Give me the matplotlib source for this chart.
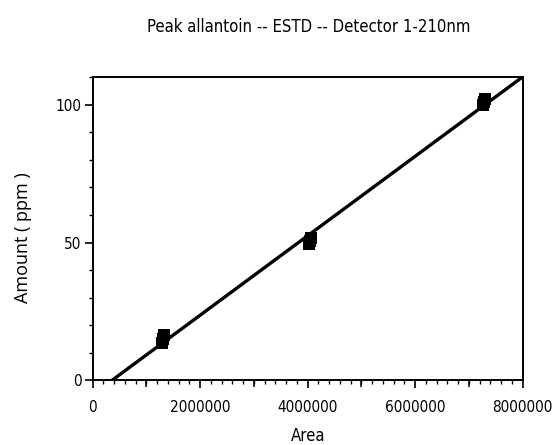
import numpy as np
import matplotlib.pyplot as plt
from matplotlib.ticker import MultipleLocator

# replicate injections of the three standards
area = [1.28e6, 1.30e6, 1.32e6,
        4.02e6, 4.04e6, 4.06e6,
        7.26e6, 7.28e6, 7.30e6]
amount = [13.5, 15.0, 16.5,
          49.3, 50.5, 51.7,
          99.8, 100.8, 102.0]

xticks = [0, 2000000, 4000000, 6000000, 8000000]
yticks = [0, 50, 100]

narrow = ['DejaVu Sans']
tickfont = dict(family=narrow, stretch='condensed', fontsize=11)

fig = plt.figure(figsize=(5.52, 4.45), dpi=100)
ax = fig.add_axes([0.168, 0.145, 0.779, 0.682])

# least squares calibration line
slope, icept = np.polyfit(area, amount, 1)
xl = np.array([0, 8000000])
ax.plot(xl, slope * xl + icept, color='black', lw=2.4, solid_capstyle='butt')

ax.plot(area, amount, 's', color='black', markersize=8, markeredgewidth=0)

ax.set_xlim(0, 8000000)
ax.set_ylim(0, 110)
ax.set_xticks(xticks)
ax.set_xticklabels([str(v) for v in xticks], **tickfont)
ax.set_yticks(yticks)
ax.set_yticklabels([str(v) for v in yticks], **tickfont)
ax.xaxis.set_minor_locator(MultipleLocator(200000))
ax.yaxis.set_minor_locator(MultipleLocator(10))
ax.tick_params(which='major', direction='out', length=6, width=1.2, pad=8)
ax.tick_params(which='minor', direction='out', length=3, width=1)
ax.tick_params(axis='y', which='major', pad=2)

# slightly longer ticks half way between the labelled ones
mid = [(a + b) / 2 for a, b in zip(xticks[:-1], xticks[1:])]
sec = ax.secondary_xaxis('bottom')
sec.set_xticks(mid)
sec.set_xticklabels([])
sec.tick_params(direction='out', length=5, width=1.1)
sec.spines['bottom'].set_visible(False)

for s in ax.spines.values():
    s.set_linewidth(1.4)

ax.set_xlabel('Area', family=narrow, stretch='condensed', fontsize=12, labelpad=9)
ax.set_ylabel('Amount ( ppm )', family=['Open Sans', 'DejaVu Sans'], fontsize=13)
ax.yaxis.set_label_coords(-0.142, 0.47)
fig.text(0.56, 0.94, 'Peak allantoin -- ESTD -- Detector 1-210nm', family=narrow,
         stretch='condensed', fontsize=12, ha='center', va='center')

fig.savefig('out.png', dpi=100)
